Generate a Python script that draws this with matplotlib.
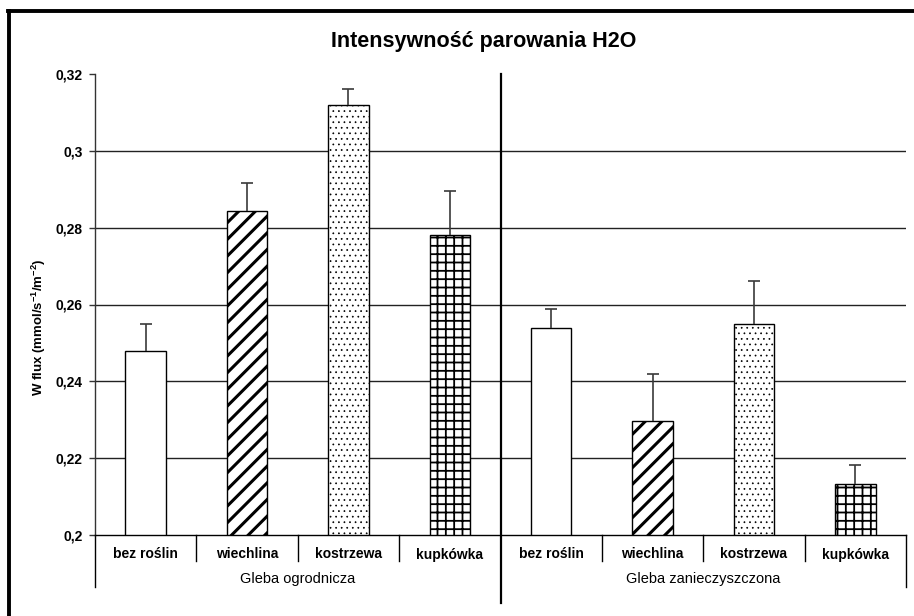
import matplotlib
matplotlib.use("Agg")
import matplotlib.pyplot as plt
import matplotlib.transforms as mtransforms
from matplotlib.lines import Line2D
import numpy as np

plt.rcParams['font.family'] = ['Liberation Sans', 'DejaVu Sans']
plt.rcParams['mathtext.default'] = 'regular'

# ---- data ----
categories = ['bez roślin', 'wiechlina', 'kostrzewa', 'kupkówka']
groups = ['Gleba ogrodnicza', 'Gleba zanieczyszczona']
ogrodnicza = [0.248, 0.2843, 0.312, 0.278]
ogrodnicza_err = [0.007, 0.0074, 0.0042, 0.0116]
zanieczyszczona = [0.2538, 0.2298, 0.2549, 0.2133]
zanieczyszczona_err = [0.0051, 0.0121, 0.0113, 0.0049]
yticks = [0.2, 0.22, 0.24, 0.26, 0.28, 0.3, 0.32]
ytick_labels = ['0,2', '0,22', '0,24', '0,26', '0,28', '0,3', '0,32']
title = 'Intensywność parowania H2O'
ylabel = 'W flux (mmol/s$^{-1}$/m$^{-2}$)'

hatches = ['', '//', '...', '++']
hatch_lw = [1.0, 2.2, 0.5, 1.3]

values = ogrodnicza + zanieczyszczona
errors = ogrodnicza_err + zanieczyszczona_err
labels = categories * len(groups)
n = len(values)
x = np.arange(n)

fig = plt.figure(figsize=(9.14, 6.16), dpi=100)
ax = fig.add_axes([95/914, 1-535/616, (906-95)/914, (535-74)/616])

ax.set_ylim(yticks[0], yticks[-1])
ax.set_xlim(-0.5, n - 0.5)

# gridlines (not at bottom/top)
for yv in yticks[1:-1]:
    ax.axhline(yv, color='#222222', lw=1.0, zorder=1)

for i in range(n):
    b = ax.bar(x[i], values[i], width=0.4, color='white', edgecolor='black',
               linewidth=1.0, hatch=hatches[i % 4] or None, zorder=2)
    for p in b.patches:
        if hasattr(p, 'set_hatch_linewidth'):
            p.set_hatch_linewidth(hatch_lw[i % 4])

eb = ax.errorbar(x, values, yerr=[np.zeros(n), errors], fmt='none', ecolor='#3a3a3a',
                 elinewidth=1.2, capsize=4, capthick=1.2, zorder=3)
caplines = eb[1]
if len(caplines) == 2:
    caplines[0].set_visible(False)

# y axis
ax.set_yticks(yticks)
ax.set_yticklabels(ytick_labels, fontsize=10, fontweight='bold')
ax.tick_params(axis='y', direction='out', length=4, width=1, color='#333333', pad=5)
ax.set_ylabel(ylabel, fontsize=9.5, fontweight='bold')
ax.yaxis.set_label_coords(-0.058, 0.45)

for s in ['top', 'right']:
    ax.spines[s].set_visible(False)
ax.spines['left'].set_color('#333333')
ax.spines['bottom'].set_color('black')
ax.spines['left'].set_linewidth(1.0)
ax.spines['bottom'].set_linewidth(1.0)

# category labels
ax.set_xticks(x)
ax.set_xticklabels(labels, fontsize=10, fontweight='bold')
ax.tick_params(axis='x', length=0, pad=9)

trans = mtransforms.blended_transform_factory(ax.transData, ax.transAxes)
# category separators
for k in range(1, n):
    if k % 4 == 0:
        continue
    ax.add_line(Line2D([k - 0.5, k - 0.5], [0, -0.056], transform=trans,
                       color='black', lw=1.0, clip_on=False))
# group outer separators
for xb in [-0.5, n - 0.5]:
    ax.add_line(Line2D([xb, xb], [0, -0.113], transform=trans,
                       color='black', lw=1.0, clip_on=False))
# middle divider
ax.add_line(Line2D([3.5, 3.5], [1.0, -0.148], transform=trans,
                   color='black', lw=1.6, clip_on=False, zorder=4))

# group labels
for g, name in enumerate(groups):
    ax.text(g * 4 + 1.5, -0.095, name, transform=trans, ha='center', va='center',
            fontsize=10.5)

fig.text(484/914, 1 - 42/616, title, ha='center', va='center',
         fontsize=15.5, fontweight='bold')

# outer frame (top and left)
fig.add_artist(Line2D([8/914, 1.0], [1 - 11/616, 1 - 11/616], transform=fig.transFigure,
                      color='black', lw=2.8))
fig.add_artist(Line2D([9/914, 9/914], [0, 1 - 11/616], transform=fig.transFigure,
                      color='black', lw=2.8))

fig.savefig('out.png', dpi=100)
